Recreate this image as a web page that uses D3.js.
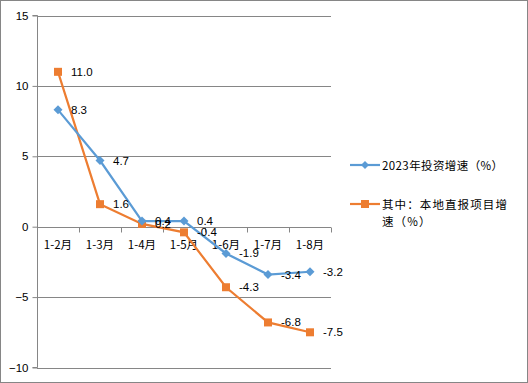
<!DOCTYPE html>
<html><head><meta charset="utf-8">
<script src="https://cdn.jsdelivr.net/npm/d3@7"></script>
<style>body{margin:0;background:#fff}svg{display:block;font-family:"Noto Sans CJK SC","Liberation Sans",sans-serif}</style>
</head><body>
<script>
const categories = ["1-2月","1-3月","1-4月","1-5月","1-6月","1-7月","1-8月"];
const seriesNames = ["2023年投资增速（%）","其中：本地直报项目增速（%）"];
const investGrowth = [8.3, 4.7, 0.4, 0.4, -1.9, -3.4, -3.2];
const localGrowth = [11.0, 1.6, 0.2, -0.4, -4.3, -6.8, -7.5];
const yTicks = [-10, -5, 0, 5, 10, 15];

(function(){
const W = 528, H = 383;
const svg = d3.select("body").append("svg").attr("width", W).attr("height", H);
svg.append("rect").attr("x",0.5).attr("y",0.5).attr("width",W-1).attr("height",H-1)
  .attr("fill","#fff").attr("stroke","#868686");

const pl = 37, pr = 331, pt = 15.5, pb = 367.5;
const x = d3.scaleBand().domain(categories).range([pl, pr]);
const y = d3.scaleLinear().domain([-10, 15]).range([pb, pt]);

// gridlines
svg.append("g").selectAll("line").data(yTicks.filter(d => d !== 0)).join("line")
  .attr("x1", pl).attr("x2", pr).attr("y1", d => Math.round(y(d))+0.5).attr("y2", d => Math.round(y(d))+0.5)
  .attr("stroke", "#868686").attr("stroke-width", 1);

// y axis
const yAxis = d3.axisLeft(y).tickValues(yTicks).tickSize(5).tickPadding(4);
const gy = svg.append("g").attr("transform", `translate(${pl+0.5},0)`).call(yAxis);
gy.select(".domain").attr("stroke", "#868686").attr("d", `M-5,${pt}H0V${pb}H-5`);
gy.selectAll(".tick line").attr("stroke", "#868686");
gy.selectAll(".tick text").attr("fill", "#000").style("font-size", "11.5px").style("font-family","Liberation Sans, sans-serif");

// x axis at 0
const y0 = Math.round(y(0)) + 0.5;
const gx = svg.append("g").attr("transform", `translate(0,${y0})`);
gx.append("line").attr("x1", pl).attr("x2", pr).attr("stroke", "#868686");
const bounds = categories.map(c => x(c)).concat([pr]);
gx.selectAll("line.t").data(bounds).join("line").attr("class","t")
  .attr("x1", d => Math.round(d)+0.5).attr("x2", d => Math.round(d)+0.5).attr("y1", 0).attr("y2", 5).attr("stroke", "#868686");
gx.selectAll("text").data(categories).join("text")
  .attr("x", d => x(d) + x.bandwidth()/2).attr("y", 21)
  .attr("text-anchor", "middle").style("font-size", "11.5px").attr("fill", "#000").text(d => d);

const cx = d => x(d) + x.bandwidth()/2;
const line = d3.line().x((d,i) => cx(categories[i])).y(d => y(d));
const blue = "#5B9BD5", orange = "#ED7D31";

// orange series
svg.append("path").datum(localGrowth).attr("d", line).attr("fill","none").attr("stroke", orange).attr("stroke-width", 2.2);
svg.append("g").selectAll("rect").data(localGrowth).join("rect")
  .attr("x", (d,i) => cx(categories[i]) - 4).attr("y", d => y(d) - 4).attr("width", 8).attr("height", 8).attr("fill", orange);

// blue series
svg.append("path").datum(investGrowth).attr("d", line).attr("fill","none").attr("stroke", blue).attr("stroke-width", 2.2);
svg.append("g").selectAll("path.m").data(investGrowth).join("path").attr("class","m")
  .attr("transform", (d,i) => `translate(${cx(categories[i])},${y(d)})`)
  .attr("d", "M0,-4.5L4.5,0L0,4.5L-4.5,0Z").attr("fill", blue);

// labels
const lbl = (arr, dy) => svg.append("g").selectAll("text").data(arr).join("text")
  .attr("x", (d,i) => cx(categories[i]) + 13).attr("y", d => y(d) + dy)
  .style("font-size", "11.5px").style("font-family","Liberation Sans, sans-serif").attr("fill", "#000").text(d => d.toFixed(1));
lbl(investGrowth, 4);
lbl(localGrowth, 4);

// legend
const lg = svg.append("g");
lg.append("line").attr("x1", 350).attr("x2", 380).attr("y1", 165).attr("y2", 165).attr("stroke", blue).attr("stroke-width", 2.2);
lg.append("path").attr("transform","translate(365,165)").attr("d","M0,-4L4,0L0,4L-4,0Z").attr("fill", blue);
lg.append("text").attr("x", 382).attr("y", 169.5).style("font-size","11.5px").style("letter-spacing","0.4px").text(seriesNames[0]);
lg.append("line").attr("x1", 350).attr("x2", 380).attr("y1", 204).attr("y2", 204).attr("stroke", orange).attr("stroke-width", 2.2);
lg.append("rect").attr("x",361).attr("y",200).attr("width",8).attr("height",8).attr("fill", orange);
const t2 = lg.append("text").style("font-size","11.5px").style("letter-spacing","1.1px");
t2.append("tspan").attr("x", 382).attr("y", 208.5).text(seriesNames[1].slice(0, 10));
t2.append("tspan").attr("x", 382).attr("y", 226).text(seriesNames[1].slice(10));
})();
</script>
</body></html>
